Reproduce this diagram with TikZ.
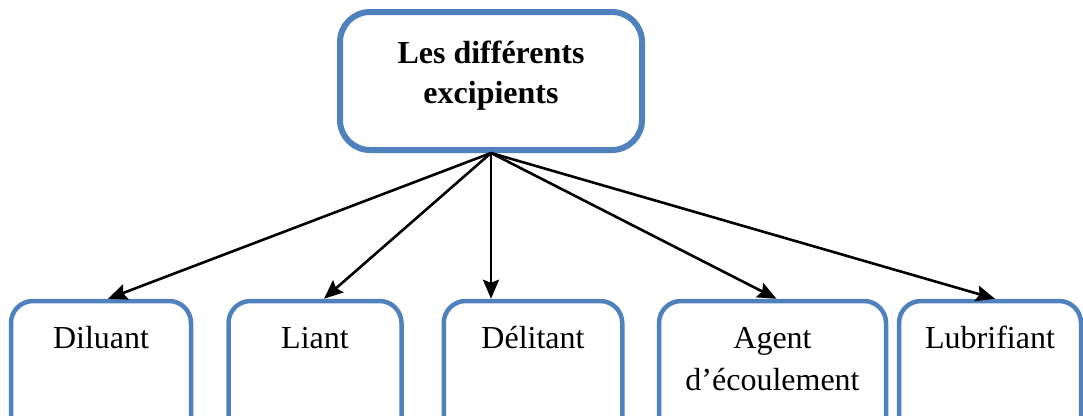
\documentclass[tikz,border=0pt]{standalone}
\usepackage{fontspec}
\setmainfont{Liberation Serif}
\usetikzlibrary{arrows.meta,calc}
\definecolor{boxblue}{RGB}{79,129,189}
\begin{document}
\begin{tikzpicture}[x=1pt,y=-1pt,
  topbox/.style={draw=boxblue, line width=6pt, rounded corners=30pt, inner sep=0pt,
    minimum width=302pt, minimum height=138pt},
  leafbox/.style={draw=boxblue, line width=4.5pt, rounded corners=22pt, inner sep=0pt,
    minimum height=159pt},
  lbl/.style={anchor=base, inner sep=0pt, font=\fontsize{32}{40}\selectfont},
  conn/.style={line width=2.6pt, -{Stealth[length=19pt,width=16pt,inset=3pt]}}
]
\useasboundingbox (0,0) rectangle (1083,415);
\clip (0,0) rectangle (1083,415);

% root box
\node[topbox] (root) at (491,81) {};
\node[lbl, font=\fontsize{32}{40}\selectfont\bfseries] (rootA) at (491,63) {Les différents};
\node[lbl, font=\fontsize{32}{40}\selectfont\bfseries] (rootB) at (491,103) {excipients};

% leaf boxes (cut off by the lower edge)
\node[leafbox, minimum width=180pt]   (dil) at (101,380.5) {};
\node[leafbox, minimum width=173pt]   (lia) at (315,380.5) {};
\node[leafbox, minimum width=178.5pt] (del) at (533,380.5) {};
\node[leafbox, minimum width=227pt]   (age) at (772.5,380.5) {};
\node[leafbox, minimum width=182pt]   (lub) at (990,380.5) {};

\node[lbl] (dilT) at (101,348) {Diluant};
\node[lbl] (liaT) at (315,348) {Liant};
\node[lbl] (delT) at (533,348) {Délitant};
\node[lbl] (ageT) at (772.5,348) {Agent};
\node[lbl] (ageU) at (772.5,390) {d’écoulement};
\node[lbl] (lubT) at (990,348) {Lubrifiant};

% connectors
\coordinate (hub) at (root.south);
\draw[conn] (hub) -- ($(dil.north)+(7,0)$);
\draw[conn] (hub) -- ($(lia.north)+(9,0)$);
\draw[conn] (hub) -- ($(del.north)+(-42,0)$);
\draw[conn] (hub) -- ($(age.north)+(4,0)$);
\draw[conn] (hub) -- ($(lub.north)+(5,0)$);
\end{tikzpicture}
\end{document}
